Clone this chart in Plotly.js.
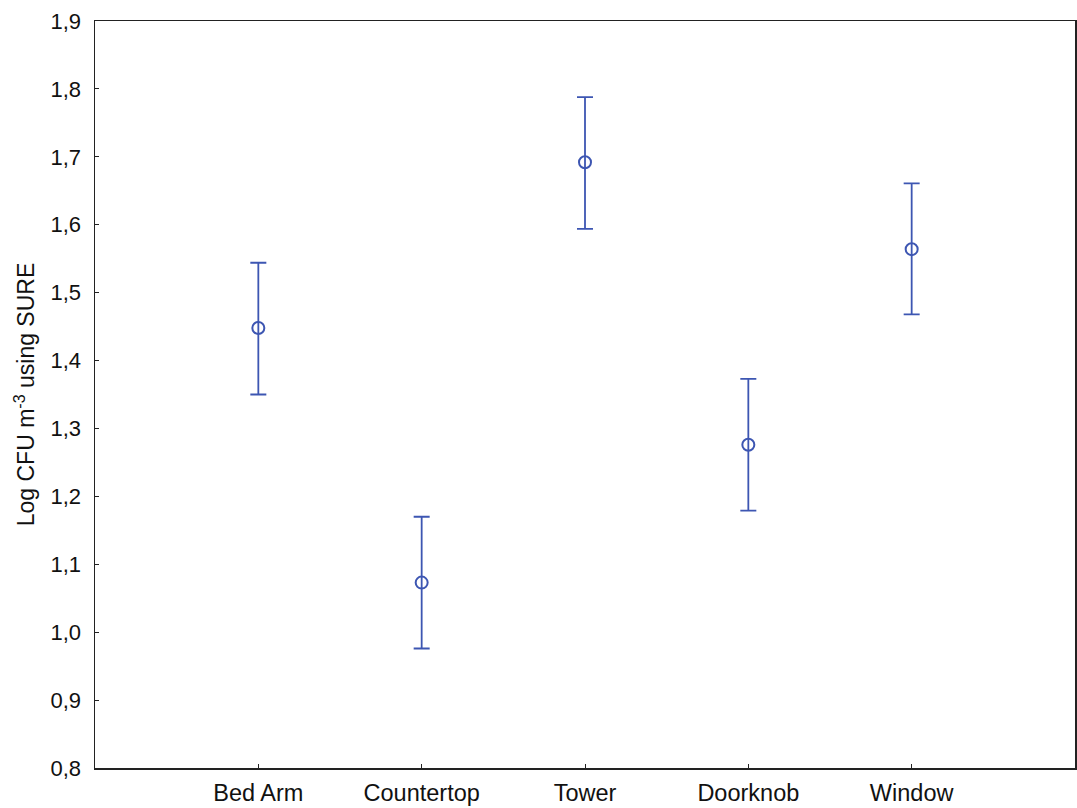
<!DOCTYPE html>
<html>
<head>
<meta charset="utf-8">
<script src="https://cdn.plot.ly/plotly-3.0.1.min.js"></script>
<style>html,body{margin:0;padding:0;background:#fff;}#chart{width:1077px;height:808px;}</style>
</head>
<body>
<div id="chart"></div>
<script>
const categories = ["Bed Arm", "Countertop", "Tower", "Doorknob", "Window"];
const positions = [1, 2, 3, 4, 5];
const means = [1.448, 1.073, 1.692, 1.276, 1.564];
const upper = [1.544, 1.170, 1.788, 1.373, 1.661];
const lower = [1.350, 0.976, 1.594, 1.179, 1.468];
const yTickVals = [0.8, 0.9, 1.0, 1.1, 1.2, 1.3, 1.4, 1.5, 1.6, 1.7, 1.8, 1.9];

const plus = means.map((m, i) => upper[i] - m);
const minus = means.map((m, i) => m - lower[i]);
const blue = "#3d56b2";

const trace = {
  x: positions,
  y: means,
  type: "scatter",
  mode: "markers",
  marker: {symbol: "circle-open", size: 12, color: blue, line: {width: 2, color: blue}},
  error_y: {type: "data", symmetric: false, array: plus, arrayminus: minus, color: blue, thickness: 1.8, width: 8},
  hoverinfo: "none"
};

const layout = {
  width: 1077, height: 808,
  margin: {l: 95, r: 2, t: 21, b: 40},
  paper_bgcolor: "#fff", plot_bgcolor: "#fff",
  separators: ",.",
  showlegend: false,
  font: {family: "Liberation Sans, Arial, sans-serif", size: 22, color: "#111"},
  xaxis: {
    range: [0, 6], tickvals: positions, ticktext: categories,
    ticks: "inside", ticklen: 4, tickcolor: "#222", tickwidth: 1,
    showgrid: false, zeroline: false,
    showline: true, mirror: true, linecolor: "#222", linewidth: 1.5,
    tickfont: {size: 23.5}, ticklabelstandoff: 3
  },
  yaxis: {
    range: [0.8, 1.9], tickvals: yTickVals, tickformat: ".1f",
    ticks: "inside", ticklen: 4, tickcolor: "#222", tickwidth: 1,
    showgrid: false, zeroline: false,
    showline: true, mirror: true, linecolor: "#222", linewidth: 1.5,
    tickfont: {size: 22}, ticklabelstandoff: 8,
    title: {text: "Log CFU m<sup>-3</sup> using SURE", font: {size: 23}, standoff: 9}
  }
};

Plotly.newPlot("chart", [trace], layout, {displayModeBar: false, staticPlot: true});
</script>
</body>
</html>
